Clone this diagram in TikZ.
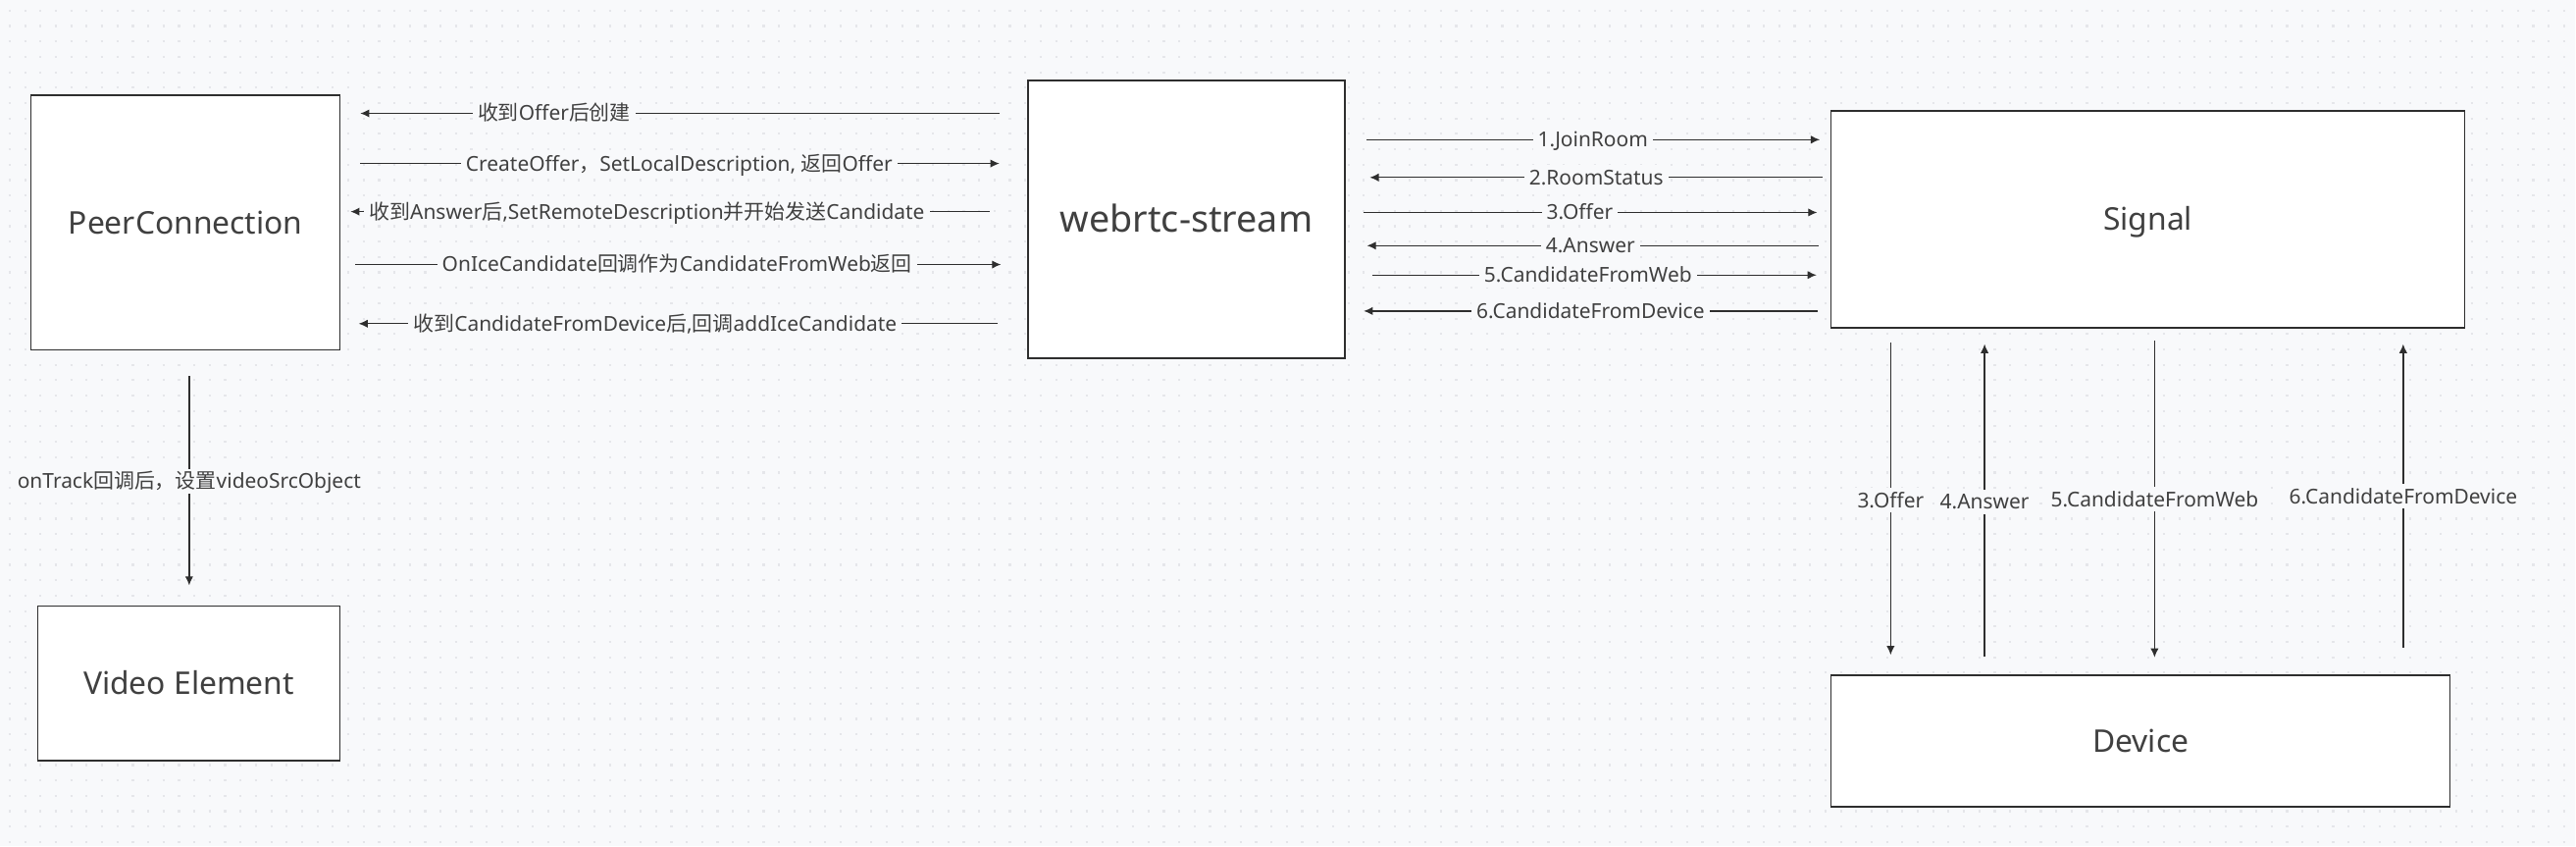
\documentclass[tikz,border=0pt]{standalone}
\usepackage{fontspec}
\setmainfont{Noto Sans}
\newfontfamily\cjk{Noto Sans CJK SC}
\usetikzlibrary{arrows.meta}
\definecolor{canvas}{HTML}{F8F9FB}
\definecolor{griddot}{HTML}{E5E6EA}
\definecolor{ink}{HTML}{2E2E2E}
\definecolor{txt}{HTML}{404040}
\tikzset{
  box/.style={draw=ink, line width=0.8pt, fill=white, inner sep=0pt, text=txt, text height=13.6pt, text depth=0pt, font=\fontsize{19}{22}\selectfont},
  msg/.style={draw=ink, line width=0.8pt, -{Latex[length=5.5pt,width=5pt]}},
  lbl/.style={fill=canvas, inner sep=3pt, text=txt, text height=8.9pt, text depth=0pt, font=\fontsize{12.5}{15}\selectfont}
}
\begin{document}
\begin{tikzpicture}[x=1pt,y=-1pt]
  % canvas with dot grid
  \fill[canvas] (0,0) rectangle (1568,515);
  \foreach \yy in {6.5,15.87,...,515}
    \draw[griddot, line width=1.3pt, dash pattern=on 1.3pt off 8.07pt] (5.3,\yy) -- (1568,\yy);
  \useasboundingbox (0,0) rectangle (1568,515);

  % boxes
  \node[box, minimum width=188pt, minimum height=155pt] (pc) at (113,135.5) {PeerConnection};
  \node[box, minimum width=193pt, minimum height=169pt, text height=16.1pt, font=\fontsize{22.5}{26}\selectfont] (ws) at (722.5,133.5) {webrtc-stream};
  \node[box, minimum width=386pt, minimum height=132pt] (sig) at (1308,133.5) {Signal};
  \node[box, minimum width=377pt, minimum height=80pt] (dev) at (1303.5,451) {Device};
  \node[box, minimum width=184pt, minimum height=94pt] (ve) at (115,416) {Video Element};

  % webrtc-stream <-> PeerConnection
  \draw[msg, shorten <=17pt, shorten >=12pt] (ws.west |- 0,69) -- node[lbl, pos=.689] (m1) {{\cjk 收到}Offer{\cjk 后创建}} (pc.east |- 0,69);
  \draw[msg, shorten <=12pt, shorten >=17pt] (pc.east |- 0,99.5) -- node[lbl, pos=.493] (m2) {CreateOffer{\cjk ，}SetLocalDescription, {\cjk 返回}Offer} (ws.west |- 0,99.5);
  \draw[msg, shorten <=23pt, shorten >=6pt] (ws.west |- 0,128.8) -- node[lbl, pos=.554] (m3) {{\cjk 收到}Answer{\cjk 后},SetRemoteDescription{\cjk 并开始发送}Candidate} (pc.east |- 0,128.8);
  \draw[msg, shorten <=9pt, shorten >=16pt] (pc.east |- 0,161) -- node[lbl, pos=.490] (m4) {OnIceCandidate{\cjk 回调作为}CandidateFromWeb{\cjk 返回}} (ws.west |- 0,161);
  \draw[msg, shorten <=18pt, shorten >=11pt] (ws.west |- 0,197) -- node[lbl, pos=.542] (m5) {{\cjk 收到}CandidateFromDevice{\cjk 后},{\cjk 回调}addIceCandidate} (pc.east |- 0,197);

  % webrtc-stream <-> Signal
  \draw[msg, shorten <=13pt, shorten >=6.4pt] (ws.east |- 0,85) -- node[lbl, pos=.510] (s1) {1.JoinRoom} (sig.west |- 0,85);
  \draw[msg, shorten <=4.6pt, shorten >=14.7pt] (sig.west |- 0,108) -- node[lbl, pos=.483] (s2) {2.RoomStatus} (ws.east |- 0,108);
  \draw[msg, shorten <=11pt, shorten >=8pt] (ws.east |- 0,129.3) -- node[lbl, pos=.483] (s3) {3.Offer} (sig.west |- 0,129.3);
  \draw[msg, shorten <=7.3pt, shorten >=13pt] (sig.west |- 0,149.5) -- node[lbl, pos=.495] (s4) {4.Answer} (ws.east |- 0,149.5);
  \draw[msg, shorten <=16.5pt, shorten >=8.4pt] (ws.east |- 0,167.4) -- node[lbl, pos=.5] (s5) {5.CandidateFromWeb} (sig.west |- 0,167.4);
  \draw[msg, shorten <=8pt, shorten >=11pt] (sig.west |- 0,189.3) -- node[lbl, pos=.495] (s6) {6.CandidateFromDevice} (ws.east |- 0,189.3);

  % Signal <-> Device
  \draw[msg, shorten <=8.5pt, shorten >=12pt] (sig.south -| 1151.3,0) -- node[lbl, pos=.496] (d3) {3.Offer} (dev.north -| 1151.3,0);
  \draw[msg, shorten <=11pt, shorten >=9.5pt] (dev.north -| 1208.5,0) -- node[lbl, pos=.499] (d4) {4.Answer} (sig.south -| 1208.5,0);
  \draw[msg, shorten <=7.5pt, shorten >=10.5pt] (sig.south -| 1312,0) -- node[lbl, pos=.494] (d5) {5.CandidateFromWeb} (dev.north -| 1312,0);
  \draw[msg, shorten <=16.5pt, shorten >=9.5pt] (dev.north -| 1463.4,0) -- node[lbl, pos=.515] (d6) {6.CandidateFromDevice} (sig.south -| 1463.4,0);

  % PeerConnection -> Video Element
  \draw[msg, shorten <=15.5pt, shorten >=12.3pt] (pc.south -| 115.2,0) -- node[lbl, pos=.513] (v1) {onTrack{\cjk 回调后，设置}videoSrcObject} (ve.north -| 115.2,0);
\end{tikzpicture}
\end{document}
